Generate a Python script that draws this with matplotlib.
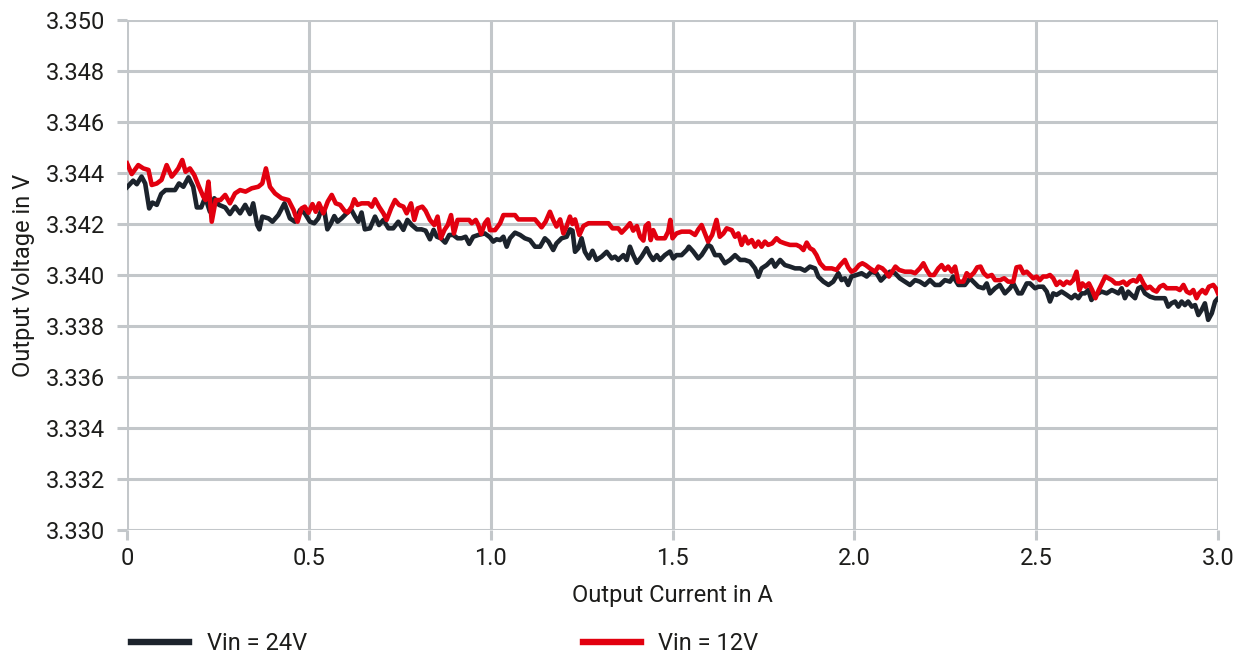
import matplotlib
matplotlib.use("Agg")
import matplotlib.pyplot as plt
from matplotlib.lines import Line2D

plt.rcParams['font.family'] = ['Roboto', 'DejaVu Sans']

# Output current (A) and output voltage (V) for Vin = 24 V
current_24v = [
    0.000, 0.017, 0.027, 0.040, 0.050, 0.061, 0.070, 0.082, 0.094, 0.106, 0.132, 0.143, 0.155, 0.169,
    0.182, 0.192, 0.204, 0.215, 0.228, 0.240, 0.253, 0.270, 0.283, 0.297, 0.311, 0.325, 0.338, 0.347,
    0.358, 0.364, 0.372, 0.389, 0.400, 0.416, 0.433, 0.448, 0.462, 0.476, 0.489, 0.503, 0.515, 0.526,
    0.535, 0.543, 0.551, 0.561, 0.570, 0.579, 0.590, 0.604, 0.616, 0.627, 0.636, 0.645, 0.654, 0.668,
    0.682, 0.693, 0.705, 0.719, 0.732, 0.746, 0.760, 0.771, 0.783, 0.797, 0.810, 0.821, 0.833, 0.843,
    0.852, 0.863, 0.875, 0.886, 0.897, 0.909, 0.920, 0.931, 0.941, 0.952, 0.966, 0.984, 0.998, 1.007,
    1.016, 1.026, 1.035, 1.044, 1.053, 1.067, 1.081, 1.094, 1.108, 1.122, 1.136, 1.149, 1.159, 1.172,
    1.181, 1.195, 1.209, 1.218, 1.225, 1.232, 1.241, 1.250, 1.259, 1.270, 1.280, 1.291, 1.305, 1.319,
    1.333, 1.342, 1.351, 1.365, 1.374, 1.383, 1.392, 1.402, 1.415, 1.429, 1.438, 1.447, 1.457, 1.466,
    1.479, 1.493, 1.502, 1.511, 1.525, 1.539, 1.545, 1.557, 1.571, 1.580, 1.589, 1.598, 1.606, 1.617,
    1.630, 1.644, 1.658, 1.672, 1.686, 1.699, 1.713, 1.727, 1.736, 1.745, 1.759, 1.773, 1.782, 1.796,
    1.809, 1.823, 1.837, 1.851, 1.864, 1.878, 1.892, 1.901, 1.915, 1.929, 1.942, 1.956, 1.965, 1.974,
    1.983, 1.992, 2.006, 2.020, 2.034, 2.047, 2.061, 2.073, 2.084, 2.098, 2.112, 2.125, 2.139, 2.153,
    2.167, 2.180, 2.194, 2.208, 2.222, 2.235, 2.249, 2.263, 2.272, 2.286, 2.304, 2.318, 2.332, 2.341,
    2.355, 2.364, 2.373, 2.387, 2.400, 2.414, 2.428, 2.437, 2.451, 2.460, 2.474, 2.483, 2.497, 2.506,
    2.519, 2.529, 2.538, 2.547, 2.556, 2.570, 2.584, 2.597, 2.607, 2.616, 2.625, 2.634, 2.643, 2.652,
    2.662, 2.671, 2.680, 2.694, 2.708, 2.717, 2.726, 2.735, 2.744, 2.753, 2.762, 2.772, 2.781, 2.790,
    2.799, 2.813, 2.827, 2.840, 2.854, 2.863, 2.872, 2.882, 2.891, 2.900, 2.909, 2.918, 2.928, 2.937,
    2.946, 2.955, 2.964, 2.973, 2.983, 2.992, 3.000,
]
voltage_24v = [
    3.34344, 3.34370, 3.34356, 3.34386, 3.34359, 3.34261, 3.34284, 3.34275, 3.34318, 3.34333, 3.34333,
    3.34359, 3.34346, 3.34383, 3.34346, 3.34265, 3.34265, 3.34305, 3.34248, 3.34301, 3.34275, 3.34265,
    3.34239, 3.34268, 3.34242, 3.34275, 3.34239, 3.34281, 3.34196, 3.34179, 3.34229, 3.34222, 3.34209,
    3.34235, 3.34281, 3.34222, 3.34209, 3.34255, 3.34242, 3.34209, 3.34203, 3.34222, 3.34258, 3.34248,
    3.34179, 3.34203, 3.34231, 3.34209, 3.34222, 3.34242, 3.34258, 3.34229, 3.34209, 3.34245, 3.34179,
    3.34183, 3.34229, 3.34196, 3.34216, 3.34183, 3.34183, 3.34209, 3.34177, 3.34216, 3.34196, 3.34179,
    3.34179, 3.34174, 3.34140, 3.34177, 3.34150, 3.34144, 3.34127, 3.34157, 3.34157, 3.34144, 3.34144,
    3.34150, 3.34122, 3.34150, 3.34157, 3.34163, 3.34148, 3.34131, 3.34140, 3.34137, 3.34150, 3.34111,
    3.34144, 3.34166, 3.34157, 3.34144, 3.34137, 3.34111, 3.34111, 3.34144, 3.34131, 3.34098, 3.34124,
    3.34144, 3.34150, 3.34179, 3.34174, 3.34091, 3.34105, 3.34144, 3.34091, 3.34065, 3.34095, 3.34059,
    3.34072, 3.34091, 3.34065, 3.34072, 3.34059, 3.34078, 3.34059, 3.34111, 3.34078, 3.34048, 3.34072,
    3.34105, 3.34078, 3.34059, 3.34078, 3.34059, 3.34078, 3.34092, 3.34065, 3.34078, 3.34078, 3.34098,
    3.34111, 3.34092, 3.34065, 3.34078, 3.34098, 3.34118, 3.34111, 3.34078, 3.34078, 3.34046, 3.34059,
    3.34078, 3.34059, 3.34059, 3.34052, 3.34026, 3.33993, 3.34026, 3.34039, 3.34059, 3.34033, 3.34059,
    3.34039, 3.34033, 3.34026, 3.34026, 3.34017, 3.34033, 3.34026, 3.33993, 3.33974, 3.33961, 3.33974,
    3.34007, 3.33980, 3.33987, 3.33961, 3.33994, 3.34000, 3.34007, 3.33994, 3.34013, 3.34007, 3.33978,
    3.33994, 3.34013, 3.34007, 3.33987, 3.33974, 3.33961, 3.33980, 3.33974, 3.33961, 3.33980, 3.33961,
    3.33961, 3.33980, 3.33974, 3.33994, 3.33961, 3.33961, 3.33987, 3.33967, 3.33954, 3.33948, 3.33967,
    3.33928, 3.33948, 3.33961, 3.33928, 3.33948, 3.33967, 3.33928, 3.33928, 3.33967, 3.33967, 3.33948,
    3.33954, 3.33954, 3.33935, 3.33896, 3.33928, 3.33922, 3.33935, 3.33922, 3.33909, 3.33922, 3.33909,
    3.33928, 3.33928, 3.33941, 3.33902, 3.33922, 3.33928, 3.33935, 3.33928, 3.33941, 3.33935, 3.33928,
    3.33948, 3.33909, 3.33935, 3.33922, 3.33909, 3.33948, 3.33954, 3.33928, 3.33915, 3.33909, 3.33909,
    3.33909, 3.33876, 3.33889, 3.33896, 3.33876, 3.33896, 3.33882, 3.33896, 3.33876, 3.33882, 3.33843,
    3.33863, 3.33889, 3.33824, 3.33850, 3.33896, 3.33909,
]

# Output current (A) and output voltage (V) for Vin = 12 V
current_12v = [
    0.000, 0.013, 0.031, 0.045, 0.059, 0.068, 0.082, 0.095, 0.109, 0.123, 0.132, 0.141, 0.152, 0.161,
    0.173, 0.185, 0.198, 0.210, 0.216, 0.224, 0.233, 0.244, 0.257, 0.270, 0.283, 0.297, 0.311, 0.326,
    0.343, 0.361, 0.372, 0.382, 0.393, 0.407, 0.425, 0.444, 0.458, 0.469, 0.480, 0.489, 0.499, 0.510,
    0.519, 0.528, 0.540, 0.552, 0.563, 0.574, 0.586, 0.598, 0.607, 0.618, 0.625, 0.634, 0.645, 0.664,
    0.673, 0.682, 0.693, 0.705, 0.714, 0.726, 0.737, 0.748, 0.760, 0.769, 0.781, 0.790, 0.799, 0.812,
    0.821, 0.833, 0.845, 0.854, 0.863, 0.873, 0.882, 0.891, 0.899, 0.909, 0.925, 0.941, 0.948, 0.959,
    0.966, 0.974, 0.984, 0.992, 0.998, 1.012, 1.026, 1.035, 1.067, 1.076, 1.122, 1.140, 1.151, 1.163,
    1.172, 1.181, 1.191, 1.200, 1.209, 1.218, 1.225, 1.232, 1.244, 1.255, 1.269, 1.324, 1.335, 1.351,
    1.360, 1.374, 1.383, 1.392, 1.402, 1.411, 1.420, 1.426, 1.434, 1.440, 1.447, 1.457, 1.468, 1.479,
    1.488, 1.494, 1.500, 1.511, 1.525, 1.548, 1.562, 1.571, 1.580, 1.589, 1.598, 1.609, 1.621, 1.630,
    1.640, 1.649, 1.663, 1.672, 1.681, 1.690, 1.699, 1.708, 1.718, 1.727, 1.736, 1.745, 1.754, 1.763,
    1.774, 1.786, 1.796, 1.809, 1.823, 1.841, 1.851, 1.860, 1.869, 1.878, 1.887, 1.896, 1.906, 1.919,
    1.938, 1.951, 1.961, 1.974, 1.983, 1.992, 2.002, 2.013, 2.022, 2.031, 2.043, 2.057, 2.066, 2.077,
    2.086, 2.095, 2.104, 2.113, 2.123, 2.139, 2.156, 2.167, 2.180, 2.190, 2.199, 2.208, 2.219, 2.231,
    2.240, 2.249, 2.258, 2.268, 2.277, 2.286, 2.300, 2.309, 2.318, 2.329, 2.338, 2.347, 2.356, 2.366,
    2.378, 2.387, 2.401, 2.412, 2.423, 2.437, 2.446, 2.456, 2.465, 2.474, 2.483, 2.492, 2.501, 2.510,
    2.519, 2.529, 2.538, 2.547, 2.556, 2.565, 2.575, 2.584, 2.593, 2.602, 2.611, 2.619, 2.627, 2.636,
    2.645, 2.654, 2.663, 2.672, 2.681, 2.690, 2.699, 2.708, 2.718, 2.729, 2.740, 2.749, 2.758, 2.767,
    2.776, 2.785, 2.795, 2.804, 2.813, 2.822, 2.831, 2.840, 2.850, 2.859, 2.873, 2.886, 2.895, 2.905,
    2.914, 2.923, 2.932, 2.941, 2.948, 2.957, 2.966, 2.975, 2.987, 2.994, 3.000,
]
voltage_12v = [
    3.34438, 3.34396, 3.34431, 3.34418, 3.34412, 3.34353, 3.34359, 3.34373, 3.34431, 3.34386, 3.34401,
    3.34418, 3.34451, 3.34405, 3.34418, 3.34392, 3.34346, 3.34307, 3.34294, 3.34366, 3.34209, 3.34294,
    3.34294, 3.34314, 3.34281, 3.34320, 3.34333, 3.34327, 3.34340, 3.34346, 3.34359, 3.34418, 3.34346,
    3.34320, 3.34301, 3.34294, 3.34255, 3.34209, 3.34261, 3.34268, 3.34244, 3.34278, 3.34248, 3.34281,
    3.34242, 3.34288, 3.34314, 3.34281, 3.34275, 3.34252, 3.34245, 3.34268, 3.34297, 3.34275, 3.34281,
    3.34281, 3.34268, 3.34297, 3.34268, 3.34242, 3.34216, 3.34261, 3.34294, 3.34275, 3.34268, 3.34242,
    3.34281, 3.34216, 3.34261, 3.34268, 3.34252, 3.34216, 3.34196, 3.34229, 3.34144, 3.34177, 3.34196,
    3.34235, 3.34163, 3.34216, 3.34216, 3.34216, 3.34203, 3.34216, 3.34196, 3.34161, 3.34203, 3.34218,
    3.34176, 3.34176, 3.34203, 3.34235, 3.34235, 3.34218, 3.34218, 3.34187, 3.34209, 3.34248, 3.34216,
    3.34190, 3.34218, 3.34163, 3.34192, 3.34229, 3.34200, 3.34218, 3.34157, 3.34192, 3.34203, 3.34203,
    3.34183, 3.34183, 3.34166, 3.34187, 3.34203, 3.34174, 3.34192, 3.34150, 3.34135, 3.34192, 3.34203,
    3.34137, 3.34176, 3.34144, 3.34144, 3.34144, 3.34170, 3.34216, 3.34144, 3.34163, 3.34170, 3.34170,
    3.34157, 3.34179, 3.34196, 3.34163, 3.34131, 3.34157, 3.34216, 3.34150, 3.34163, 3.34183, 3.34176,
    3.34150, 3.34163, 3.34118, 3.34150, 3.34124, 3.34137, 3.34111, 3.34131, 3.34111, 3.34131, 3.34118,
    3.34124, 3.34144, 3.34131, 3.34124, 3.34118, 3.34118, 3.34111, 3.34098, 3.34127, 3.34105, 3.34098,
    3.34078, 3.34046, 3.34026, 3.34026, 3.34020, 3.34039, 3.34059, 3.34030, 3.34013, 3.34020, 3.34039,
    3.34046, 3.34039, 3.34026, 3.34013, 3.34033, 3.34026, 3.34013, 3.33994, 3.34013, 3.34033, 3.34020,
    3.34013, 3.34013, 3.34007, 3.34026, 3.34046, 3.34020, 3.34000, 3.34000, 3.34026, 3.34039, 3.34020,
    3.34033, 3.34013, 3.34033, 3.33974, 3.33974, 3.34007, 3.33994, 3.34009, 3.34030, 3.34033, 3.34007,
    3.33994, 3.34000, 3.33980, 3.33980, 3.33987, 3.33974, 3.33974, 3.34030, 3.34033, 3.34007, 3.34013,
    3.34000, 3.33987, 3.33994, 3.33980, 3.33994, 3.33994, 3.34000, 3.33987, 3.33961, 3.33974, 3.33961,
    3.33974, 3.33967, 3.33980, 3.34013, 3.33941, 3.33967, 3.33954, 3.33967, 3.33941, 3.33909, 3.33941,
    3.33967, 3.33994, 3.33987, 3.33980, 3.33967, 3.33967, 3.33974, 3.33961, 3.33974, 3.33980, 3.33974,
    3.33996, 3.33967, 3.33948, 3.33954, 3.33941, 3.33935, 3.33954, 3.33961, 3.33948, 3.33948, 3.33948,
    3.33941, 3.33961, 3.33935, 3.33928, 3.33941, 3.33909, 3.33928, 3.33941, 3.33928, 3.33954, 3.33961,
    3.33948, 3.33928,
]

x_ticks = [0.0, 0.5, 1.0, 1.5, 2.0, 2.5, 3.0]
x_tick_labels = ["0", "0.5", "1.0", "1.5", "2.0", "2.5", "3.0"]
y_ticks = [3.330, 3.332, 3.334, 3.336, 3.338, 3.340, 3.342, 3.344, 3.346, 3.348, 3.350]
series_labels = ["Vin = 24V", "Vin = 12V"]

COLOR_24V = "#1c232c"
COLOR_12V = "#e2000f"
GRID = "#c3c7ca"
TEXT = "#1d1d1b"
FS = 17

fig = plt.figure(figsize=(12.44, 6.55), dpi=100)
ax = fig.add_axes([127 / 1244, 1 - 530 / 655, 1091 / 1244, 510 / 655])

ax.plot(current_24v, voltage_24v, color=COLOR_24V, lw=3.3, solid_joinstyle="round", zorder=3)
ax.plot(current_12v, voltage_12v, color=COLOR_12V, lw=3.3, solid_joinstyle="round", zorder=4)

ax.set_xlim(0, 3.0)
ax.set_ylim(3.330, 3.350)
ax.set_xticks(x_ticks)
ax.set_xticklabels(x_tick_labels)
ax.set_yticks(y_ticks)
ax.set_yticklabels([f"{v:.3f}" for v in y_ticks])

ax.grid(True, color=GRID, lw=2.2, zorder=0)
ax.set_axisbelow(True)
for s in ax.spines.values():
    s.set_visible(False)
ax.tick_params(axis="both", colors=GRID, length=7, width=2.2, labelsize=FS, labelcolor=TEXT)
ax.tick_params(axis="y", pad=9)
ax.tick_params(axis="x", pad=5)

ax.set_xlabel("Output Current in A", fontsize=FS, color=TEXT)
ax.set_ylabel("Output Voltage in V", fontsize=FS, color=TEXT)
ax.xaxis.set_label_coords(0.5, -0.106)
ax.yaxis.set_label_coords(-0.084, 0.5)

handles = [Line2D([], [], color=COLOR_24V, lw=4.6),
           Line2D([], [], color=COLOR_12V, lw=4.6)]
fig.legend(handles, series_labels, loc="center left", bbox_to_anchor=(131 / 1244, 1 - 644 / 655),
           ncol=2, frameon=False, fontsize=FS, handlelength=2.45, handletextpad=0.75,
           columnspacing=11.7, labelcolor=TEXT, borderaxespad=0, borderpad=0)

fig.savefig("out.png", dpi=100)
